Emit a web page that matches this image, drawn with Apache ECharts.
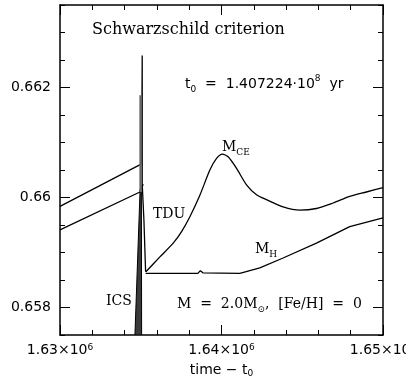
<!DOCTYPE html>
<html>
<head>
<meta charset="utf-8">
<script src="https://cdn.jsdelivr.net/npm/echarts@6/dist/echarts.min.js"></script>
<style>
  html, body { margin: 0; padding: 0; background: #fff; }
  #chart { width: 406px; height: 379px; }
</style>
</head>
<body>
<div id="chart"></div>
<script>
// data (time - t0, M_r)
const upperT = [1630000, 1635054, 1635091, 1635091, 1635091, 1635196, 1635196, 1635301, 1635301];
const upperM = [0.65984, 0.66061, 0.66061, 0.66258, 0.66024, 0.66024, 0.65959, 0.65959, 0.65865];

const mceT = [1635320, 1636186, 1637009, 1637528, 1638042, 1638660, 1639279, 1639693, 1640052, 1640411,
  1640931, 1641549, 1642168, 1642786, 1643813, 1644846, 1645879, 1646906, 1647939, 1648972, 1650000];
const mceM = [0.65865, 0.65892, 0.65917, 0.65938, 0.65965, 0.66004, 0.66050, 0.66071, 0.66079, 0.66074,
  0.66053, 0.66023, 0.66005, 0.65996, 0.65983, 0.65977, 0.65980, 0.65990, 0.66002, 0.66010, 0.66018];

const mhPreT = [1630000, 1634949, 1635153];
const mhPreM = [0.65941, 0.66010, 0.66024];

const mhT = [1635301, 1638537, 1638691, 1638846, 1641135, 1642372, 1643813, 1645879, 1647939, 1650000];
const mhM = [0.65862, 0.65862, 0.65867, 0.65863, 0.65862, 0.65872, 0.65890, 0.65917, 0.65947, 0.65963];

const spikeT = [1634992, 1634992];
const spikeM = [0.66010, 0.66186];

// ICS region outline
const icsT = [1634640, 1634960, 1635040, 1635054];
const icsM = [0.6575, 0.66015, 0.66010, 0.6575];

const yMajor = [0.658, 0.66, 0.662];

const zip = (a, b) => a.map((v, i) => [v, b[i]]);

const chart = echarts.init(document.getElementById('chart'));

const lineStyle = { color: '#000', width: 1.3 };
const numFont = 'DejaVu Sans';
const txtFont = 'DejaVu Serif';

const baseAxis = {
  type: 'value',
  axisLine: { show: true, lineStyle: { color: '#000', width: 1.5 } },
  splitLine: { show: false }
};

const subStyle = (font) => ({ fontSize: 9, verticalAlign: 'bottom', lineHeight: 12, fontFamily: font, fill: '#000' });

const option = {
  animation: false,
  grid: { left: 60, right: 23, top: 5, bottom: 44, outerBoundsMode: 'none', containLabel: false },
  xAxis: [
    Object.assign({}, baseAxis, {
      position: 'bottom', min: 1630000, max: 1650000, interval: 10000,
      axisTick: { inside: true, length: 10, lineStyle: { color: '#000' } },
      minorTick: { show: true, splitNumber: 5, length: 5, lineStyle: { color: '#000' } },
      axisLabel: {
        margin: 8, color: '#000', fontFamily: numFont, fontSize: 14,
        showMaxLabel: true, showMinLabel: true, hideOverlap: false,
        formatter: v => (v / 1e6).toFixed(2) + '×10{sup|6}',
        rich: { sup: { fontSize: 9, verticalAlign: 'top', lineHeight: 14, fontFamily: numFont, color: '#000' } }
      },
      name: 'time − t{sub|0}', nameLocation: 'middle', nameGap: 25,
      nameTextStyle: {
        color: '#000', fontFamily: numFont, fontSize: 14, lineHeight: 16,
        rich: { sub: { fontSize: 9, verticalAlign: 'bottom', lineHeight: 10, fontFamily: numFont, color: '#000' } }
      }
    }),
    Object.assign({}, baseAxis, {
      position: 'top', min: 1630000, max: 1650000, interval: 10000,
      axisTick: { inside: true, length: 10, lineStyle: { color: '#000' } },
      minorTick: { show: true, splitNumber: 5, length: 5, lineStyle: { color: '#000' } },
      axisLabel: { show: false }
    })
  ],
  yAxis: [
    Object.assign({}, baseAxis, {
      position: 'left', min: 0.6575, max: 0.6635, interval: 0.0005,
      axisTick: { inside: true, length: 5, lineStyle: { color: '#000' } },
      axisLabel: {
        margin: 9, color: '#000', fontFamily: numFont, fontSize: 14,
        formatter: v => {
          const k = Math.round(v * 10000);
          return (k === 6580 || k === 6600 || k === 6620) ? String(k / 10000) : '';
        }
      },
      name: 'M{sub|r}', nameLocation: 'middle', nameGap: 36, nameRotate: 90,
      nameTextStyle: {
        color: '#000', fontFamily: txtFont, fontSize: 14, lineHeight: 16,
        rich: { sub: { fontSize: 9, verticalAlign: 'bottom', lineHeight: 10, fontFamily: txtFont, color: '#000' } }
      }
    }),
    Object.assign({}, baseAxis, {
      position: 'left', min: 0.6575, max: 0.6635,
      axisLine: { show: false },
      axisTick: { inside: true, length: 10, customValues: yMajor, lineStyle: { color: '#000' } },
      axisLabel: { show: false }
    }),
    Object.assign({}, baseAxis, {
      position: 'right', min: 0.6575, max: 0.6635, interval: 0.0005,
      axisTick: { inside: true, length: 5, lineStyle: { color: '#000' } },
      axisLabel: { show: false }
    }),
    Object.assign({}, baseAxis, {
      position: 'right', min: 0.6575, max: 0.6635,
      axisLine: { show: false },
      axisTick: { inside: true, length: 10, customValues: yMajor, lineStyle: { color: '#000' } },
      axisLabel: { show: false }
    })
  ],
  series: [
    {
      type: 'custom', name: 'ICS', clip: true,
      data: [[icsT[0], icsM[0]]],
      renderItem: (params, api) => ({
        type: 'polygon',
        shape: { points: icsT.map((t, i) => api.coord([t, icsM[i]])) },
        style: { fill: '#3a3a3a', stroke: '#000', lineWidth: 1 }
      })
    },
    { type: 'line', name: 'upper', data: zip(upperT, upperM), showSymbol: false, lineStyle },
    { type: 'line', name: 'M_CE', data: zip(mceT, mceM), showSymbol: false, smooth: 0.25, lineStyle },
    { type: 'line', name: 'M_H pre', data: zip(mhPreT, mhPreM), showSymbol: false, lineStyle },
    { type: 'line', name: 'M_H', data: zip(mhT, mhM), showSymbol: false, lineStyle },
    { type: 'line', name: 'spike', data: zip(spikeT, spikeM), showSymbol: false,
      lineStyle: { color: '#666', width: 2.5 } }
  ],
  graphic: [
    { type: 'text', left: 92, top: 22, style: { text: 'Schwarzschild criterion', fontFamily: txtFont, fontSize: 16, fill: '#000' } },
    { type: 'text', left: 185, top: 74, style: {
      text: 't{sub|0}  =  1.407224·10{sup|8}  yr', fontFamily: numFont, fontSize: 14, fill: '#000', lineHeight: 20,
      rich: {
        sub: subStyle(numFont),
        sup: { fontSize: 9, verticalAlign: 'top', lineHeight: 12, fontFamily: numFont, fill: '#000' }
      } } },
    { type: 'text', left: 222, top: 137, style: {
      text: 'M{sub|CE}', fontFamily: txtFont, fontSize: 14, fill: '#000', lineHeight: 20,
      rich: { sub: subStyle(txtFont) } } },
    { type: 'text', left: 153, top: 207, style: { text: 'TDU', fontFamily: txtFont, fontSize: 14, fill: '#000' } },
    { type: 'text', left: 255, top: 239, style: {
      text: 'M{sub|H}', fontFamily: txtFont, fontSize: 14, fill: '#000', lineHeight: 20,
      rich: { sub: subStyle(txtFont) } } },
    { type: 'text', left: 106, top: 294, style: { text: 'ICS', fontFamily: txtFont, fontSize: 14, fill: '#000' } },
    { type: 'text', left: 177, top: 294, style: {
      text: 'M  =  2.0M{sub|⊙},  [Fe/H]  =  0', fontFamily: txtFont, fontSize: 14, fill: '#000', lineHeight: 20,
      rich: { sub: subStyle(txtFont) } } }
  ]
};

chart.setOption(option);
</script>
</body>
</html>
